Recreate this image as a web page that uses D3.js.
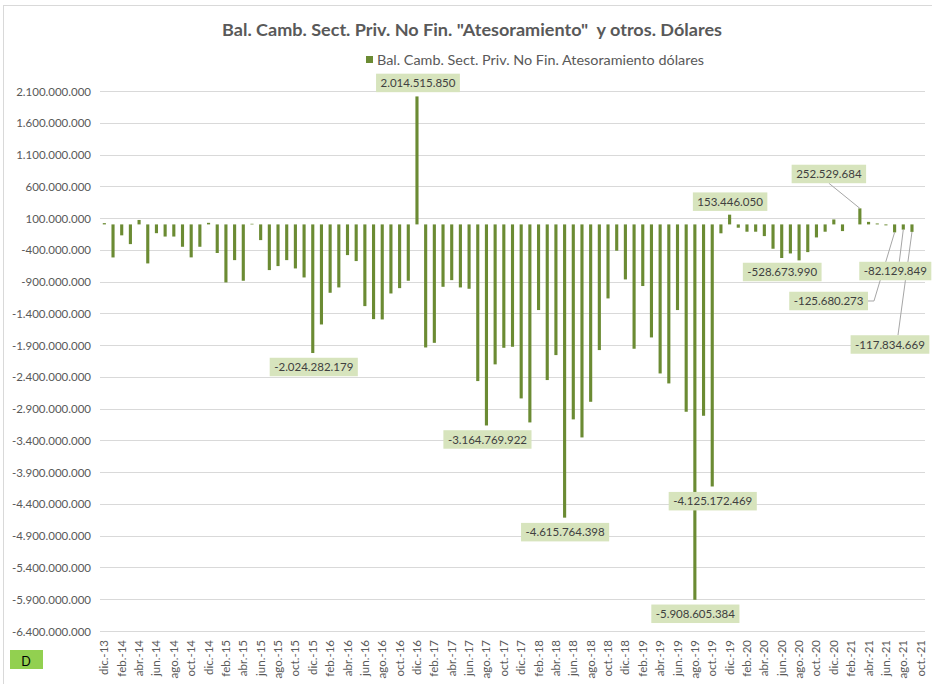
<!DOCTYPE html>
<html><head><meta charset="utf-8">
<script src="https://cdn.jsdelivr.net/npm/d3@7"></script>
<style>
html,body{margin:0;padding:0;background:#fff;}
svg{display:block;}
text{font-family:Lato,"Open Sans",sans-serif;}
</style></head>
<body>
<svg id="chart" width="932" height="684"></svg>
<script>
// ---- DATA ----
const title = 'Bal. Camb. Sect. Priv. No Fin. "Atesoramiento"  y otros. Dólares';
const seriesName = "Bal. Camb. Sect. Priv. No Fin. Atesoramiento dólares";
const months = ["dic.-13",
 "ene.-14","feb.-14","mar.-14","abr.-14","may.-14","jun.-14","jul.-14","ago.-14","sep.-14","oct.-14","nov.-14","dic.-14",
 "ene.-15","feb.-15","mar.-15","abr.-15","may.-15","jun.-15","jul.-15","ago.-15","sep.-15","oct.-15","nov.-15","dic.-15",
 "ene.-16","feb.-16","mar.-16","abr.-16","may.-16","jun.-16","jul.-16","ago.-16","sep.-16","oct.-16","nov.-16","dic.-16",
 "ene.-17","feb.-17","mar.-17","abr.-17","may.-17","jun.-17","jul.-17","ago.-17","sep.-17","oct.-17","nov.-17","dic.-17",
 "ene.-18","feb.-18","mar.-18","abr.-18","may.-18","jun.-18","jul.-18","ago.-18","sep.-18","oct.-18","nov.-18","dic.-18",
 "ene.-19","feb.-19","mar.-19","abr.-19","may.-19","jun.-19","jul.-19","ago.-19","sep.-19","oct.-19","nov.-19","dic.-19",
 "ene.-20","feb.-20","mar.-20","abr.-20","may.-20","jun.-20","jul.-20","ago.-20","sep.-20","oct.-20","nov.-20","dic.-20",
 "ene.-21","feb.-21","mar.-21","abr.-21","may.-21","jun.-21","jul.-21","ago.-21","sep.-21","oct.-21"];
const values = [20000000,
 -520000000,-172000000,-310000000,70000000,-614000000,-138000000,-191000000,-191000000,-352000000,-519000000,-352000000,25000000,
 -450000000,-913000000,-562000000,-887000000,10000000,-247000000,-719000000,-656000000,-562000000,-693000000,-835000000,-2024282179,
 -1575000000,-1076000000,-992000000,-483000000,-577000000,-1286000000,-1491000000,-1496000000,-1087000000,-1003000000,-887000000,2014515850,
 -1937000000,-1864000000,-982000000,-877000000,-992000000,-1013000000,-2466000000,-3164769922,-2203000000,-1942000000,-1926000000,-2739000000,
 -3117000000,-1348000000,-2450000000,-2057000000,-4615764398,-3069000000,-3353000000,-2792000000,-1978000000,-1165000000,-414000000,-866000000,
 -1957000000,-970000000,-1779000000,-2346000000,-2503000000,-1348000000,-2949000000,-5908605384,-3012000000,-4125172469,-140000000,153446050,
 -52000000,-115000000,-115000000,-184000000,-383000000,-528673990,-457000000,-566000000,-436000000,-205000000,-115000000,78000000,
 -105000000,0,252529684,40000000,15000000,-15000000,-125680273,-82129849,-117834669,0];
const yTicks = [-6400000000,-5900000000,-5400000000,-4900000000,-4400000000,-3900000000,-3400000000,-2900000000,-2400000000,
 -1900000000,-1400000000,-900000000,-400000000,100000000,600000000,1100000000,1600000000,2100000000];
const labeledMonths = ["dic.-15","dic.-16","ago.-17","may.-18","ago.-19","oct.-19","dic.-19","jun.-20","mar.-21","jul.-21","ago.-21","sep.-21"];
const badge = "D";

// ---- LAYOUT (not data) ----
const labelLayout = {
 "dic.-15":{dx:1,dy:14},
 "dic.-16":{dx:1,dy:-13.5},
 "ago.-17":{dx:1,dy:14},
 "may.-18":{dx:0.5,dy:14.5},
 "ago.-19":{dx:0.5,dy:14},
 "oct.-19":{dx:0.5,dy:14.7},
 "dic.-19":{dx:0.5,dy:-13},
 "jun.-20":{dx:0.5,dy:14},
 "mar.-21":{dx:-31,dy:-34.4,leader:"bottom"},
 "jul.-21":{dx:-66,dy:68.6,leader:"elbow"},
 "ago.-21":{dx:-8,dy:41.4,leader:"top"},
 "sep.-21":{dx:-22,dy:112.6,leader:"top"}
};

const locale = d3.formatLocale({decimal:",",thousands:".",grouping:[3],currency:["$",""],minus:"-"});
const fmt = locale.format(",.0f");

const svg = d3.select("#chart");
const W=932,H=684;
const plot = {left:100,right:925,top:91,bottom:631};

// border
svg.append("rect").attr("x",3.5).attr("y",5.5).attr("width",W+20).attr("height",H+20)
  .attr("fill","#fff").attr("stroke","#d9d9d9").attr("stroke-width",1);

const x = d3.scaleBand().domain(months).range([plot.left,plot.right]).paddingInner(0.64).paddingOuter(0.32);
const y = d3.scaleLinear().domain([-6400000000,2100000000]).range([plot.bottom,plot.top]);

// gridlines
svg.append("g").selectAll("line").data(yTicks).join("line")
 .attr("x1",plot.left).attr("x2",plot.right)
 .attr("y1",d=>Math.round(y(d))+0.5).attr("y2",d=>Math.round(y(d))+0.5)
 .attr("stroke","#d9d9d9").attr("stroke-width",1);

// y axis
const yAxis = d3.axisLeft(y).tickValues(yTicks).tickFormat(fmt).tickSize(0).tickPadding(0);
const gy = svg.append("g").attr("transform",`translate(${91},0)`).call(yAxis);
gy.select(".domain").remove();
gy.selectAll("text").attr("fill","#595959").style("font-size","11.5px").attr("dy","0.35em");

// x axis
const xAxis = d3.axisBottom(x).tickValues(months.filter((m,i)=>i%2===0)).tickSize(0).tickPadding(0);
const gx = svg.append("g").attr("transform",`translate(0,${640})`).call(xAxis);
gx.select(".domain").remove();
gx.selectAll("text").attr("fill","#595959").style("font-size","11.5px")
 .attr("text-anchor","end").attr("transform","rotate(-90)").attr("x",0).attr("y",0).attr("dy","0.35em").attr("dx",0);

// bars
const barColor = "#6b8b33";
svg.append("g").selectAll("rect").data(months).join("rect")
 .attr("x",(m)=>x(m)).attr("width",x.bandwidth())
 .attr("y",(m,i)=>y(Math.max(0,values[i])))
 .attr("height",(m,i)=>Math.abs(y(values[i])-y(0)))
 .attr("fill",barColor);

// data labels
const lg = svg.append("g");
labeledMonths.forEach(m=>{
  const i = months.indexOf(m);
  const v = values[i];
  const L = labelLayout[m];
  const bx = x(m)+x.bandwidth()/2;
  const by = y(v);
  const cx = bx+L.dx, cy = by+L.dy;
  const t = lg.append("text").text(fmt(v)).attr("x",cx).attr("y",cy).attr("dy","0.36em")
    .attr("text-anchor","middle").attr("fill","#404040").style("font-size","11.5px");
  const w = t.node().getComputedTextLength()+9, h=18.5;
  if(L.leader){
    let pts;
    if(L.leader==="bottom") pts=[[cx,cy+h/2],[bx,by]];
    else if(L.leader==="top") pts=[[Math.min(cx+8,bx-4),cy-h/2],[bx,by]];
    else pts=[[cx+w/2,cy],[cx+w/2+6,cy],[bx,by]];
    lg.insert("path","text").attr("d",d3.line()(pts)).attr("fill","none").attr("stroke","#a6a6a6").attr("stroke-width",1);
  }
  lg.insert("rect","text:last-child").attr("x",cx-w/2).attr("y",cy-h/2).attr("width",w).attr("height",h).attr("fill","#d7e4bd");
});

// title
svg.append("text").text(title).attr("x",472).attr("y",36).attr("text-anchor","middle")
 .style("white-space","pre").style("font-size","17px").style("font-weight","bold").attr("fill","#595959")
 .attr("textLength",500).attr("lengthAdjust","spacingAndGlyphs");

// legend
svg.append("rect").attr("x",366).attr("y",56).attr("width",7).attr("height",7).attr("fill",barColor);
svg.append("text").text(seriesName).attr("x",377).attr("y",64.5)
 .style("font-size","12.5px").attr("fill","#595959").attr("textLength",327).attr("lengthAdjust","spacingAndGlyphs");

// badge
svg.append("rect").attr("x",10).attr("y",650).attr("width",33).attr("height",19).attr("fill","#92d050");
svg.append("text").text(badge).attr("x",26).attr("y",666).attr("text-anchor","middle").attr("fill","#000").style("font-size","12.5px");
</script>
</body></html>
